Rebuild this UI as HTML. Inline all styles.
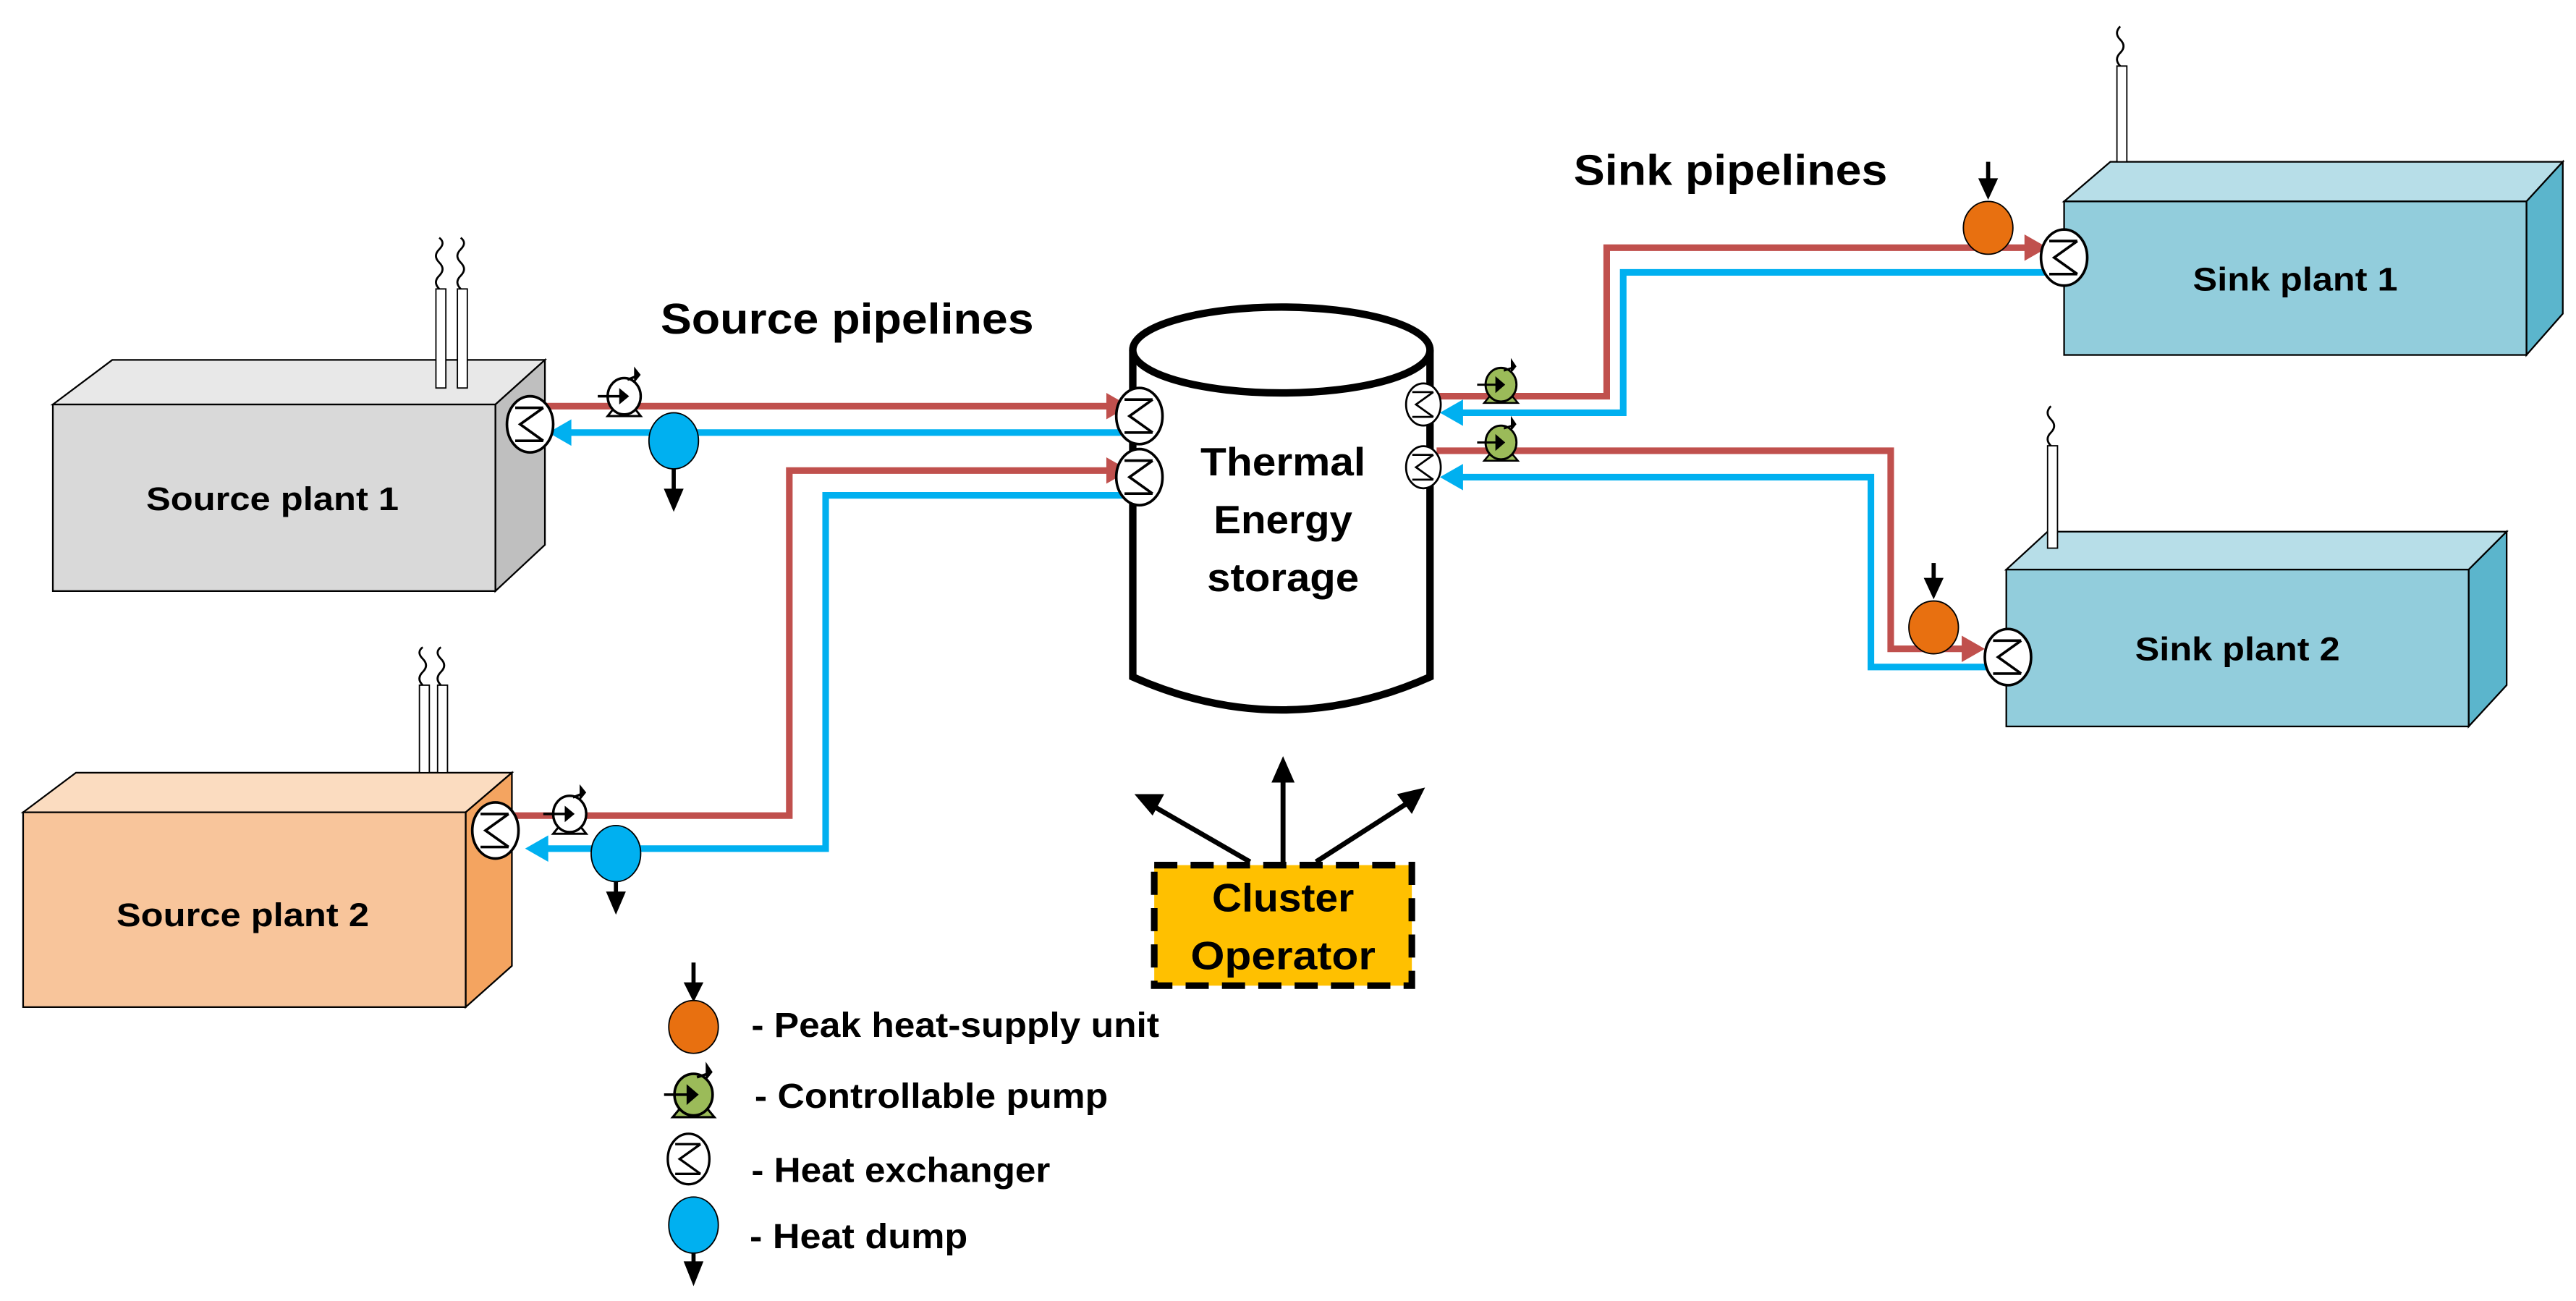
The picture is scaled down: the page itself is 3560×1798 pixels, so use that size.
<!DOCTYPE html>
<html><head><meta charset="utf-8"><style>html,body{margin:0;padding:0;background:#fff;}svg{display:block}</style></head>
<body>
<svg width="3560" height="1798" viewBox="0 0 1560 788" preserveAspectRatio="none" xmlns="http://www.w3.org/2000/svg" font-family="Liberation Sans, sans-serif" font-weight="bold">
<defs>
<g id="hx"><ellipse cx="0" cy="0" rx="14" ry="17" fill="#fff" stroke="#000" stroke-width="1.6"/><path d="M-9,-10 L8,-10 M8,-10 L-6,0 L8,10 M-9,10 L8,10" fill="none" stroke="#000" stroke-width="1.6"/></g>
<g id="pumpw"><path d="M-10,12 L10,12 L6,7 L-6,7 Z" fill="#fff" stroke="#000" stroke-width="1.3"/><ellipse cx="0" cy="0" rx="10" ry="11" fill="#fff" stroke="#000" stroke-width="1.5"/><path d="M-16,0 L-2,0" stroke="#000" stroke-width="1.5"/><path d="M-3,-5 L3,0 L-3,5 Z"/><path d="M2,-10 L7,-12" stroke="#000" stroke-width="1.5"/><path d="M6,-18 L10,-13 L6,-8 Z"/></g>
<g id="pumpg"><path d="M-12,13 L12,13 L7,7 L-7,7 Z" fill="#9bbb59" stroke="#000" stroke-width="1.3"/><ellipse cx="0" cy="0" rx="11" ry="12" fill="#9bbb59" stroke="#000" stroke-width="1.5"/><path d="M-17,0 L-2,0" stroke="#000" stroke-width="1.5"/><path d="M-4,-6 L3,0 L-4,6 Z"/><path d="M2,-10 L8,-12" stroke="#000" stroke-width="1.5"/><path d="M7,-19 L11,-13 L7,-8 Z"/></g>
</defs>
<!-- Source plant 1 -->
<polygon points="32,245 68,218 330,218 300,245" fill="#e8e8e8" stroke="#000" stroke-width="1"/>
<polygon points="300,245 330,218 330,330 300,358" fill="#bfbfbf" stroke="#000" stroke-width="1"/>
<rect x="32" y="245" width="268" height="113" fill="#d9d9d9" stroke="#000" stroke-width="1"/>
<rect x="264" y="175" width="6" height="60" fill="#fff" stroke="#000" stroke-width="0.8"/>
<rect x="277" y="175" width="6" height="60" fill="#fff" stroke="#000" stroke-width="0.8"/>
<path d="M266,175 q-4,-4 0,-8 q4,-4 0,-8 q-4,-4 0,-8 q4,-4 0,-7 M279,175 q-4,-4 0,-8 q4,-4 0,-8 q-4,-4 0,-8 q4,-4 0,-7" fill="none" stroke="#000" stroke-width="1.2"/>
<text x="165" y="309" font-size="20" text-anchor="middle" textLength="153" lengthAdjust="spacingAndGlyphs">Source plant 1</text>
<!-- Source plant 2 -->
<polygon points="14,492 46,468 310,468 282,492" fill="#fbdcc0" stroke="#000" stroke-width="1"/>
<polygon points="282,492 310,468 310,585 282,610" fill="#f4a460" stroke="#000" stroke-width="1"/>
<rect x="14" y="492" width="268" height="118" fill="#f8c59b" stroke="#000" stroke-width="1"/>
<rect x="254" y="415" width="6" height="53" fill="#fff" stroke="#000" stroke-width="0.8"/>
<rect x="265" y="415" width="6" height="53" fill="#fff" stroke="#000" stroke-width="0.8"/>
<path d="M256,415 q-4,-4 0,-8 q4,-4 0,-8 q-4,-4 0,-7 M267,415 q-4,-4 0,-8 q4,-4 0,-8 q-4,-4 0,-7" fill="none" stroke="#000" stroke-width="1.2"/>
<text x="147" y="561" font-size="20" text-anchor="middle" textLength="153" lengthAdjust="spacingAndGlyphs">Source plant 2</text>
<!-- Sink plant 1 -->
<polygon points="1250,122 1278,98 1552,98 1530,122" fill="#b7dee8" stroke="#000" stroke-width="1"/>
<polygon points="1530,122 1552,98 1552,190 1530,215" fill="#5bb5cc" stroke="#000" stroke-width="1"/>
<rect x="1250" y="122" width="280" height="93" fill="#92cddc" stroke="#000" stroke-width="1"/>
<rect x="1282" y="40" width="6" height="58" fill="#fff" stroke="#000" stroke-width="0.8"/>
<path d="M1284,40 q-4,-4 0,-8 q4,-4 0,-8 q-4,-4 0,-8" fill="none" stroke="#000" stroke-width="1.2"/>
<text x="1390" y="176" font-size="20" text-anchor="middle" textLength="124" lengthAdjust="spacingAndGlyphs">Sink plant 1</text>
<!-- Sink plant 2 -->
<polygon points="1215,345 1240,322 1518,322 1495,345" fill="#b7dee8" stroke="#000" stroke-width="1"/>
<polygon points="1495,345 1518,322 1518,415 1495,440" fill="#5bb5cc" stroke="#000" stroke-width="1"/>
<rect x="1215" y="345" width="280" height="95" fill="#92cddc" stroke="#000" stroke-width="1"/>
<rect x="1240" y="270" width="6" height="62" fill="#fff" stroke="#000" stroke-width="0.8"/>
<path d="M1242,270 q-4,-4 0,-8 q4,-4 0,-8 q-4,-4 0,-8" fill="none" stroke="#000" stroke-width="1.2"/>
<text x="1355" y="400" font-size="20" text-anchor="middle" textLength="124" lengthAdjust="spacingAndGlyphs">Sink plant 2</text>
<!-- Tank -->
<path d="M686,212 L686,410 Q776,450 866,410 L866,212" fill="#fff" stroke="#000" stroke-width="4.5"/>
<ellipse cx="776" cy="212" rx="90" ry="26" fill="#fff" stroke="#000" stroke-width="4.5"/>
<text x="777" y="288" font-size="24" text-anchor="middle" textLength="100" lengthAdjust="spacingAndGlyphs">Thermal</text>
<text x="777" y="323" font-size="24" text-anchor="middle" textLength="84" lengthAdjust="spacingAndGlyphs">Energy</text>
<text x="777" y="358" font-size="24" text-anchor="middle" textLength="92" lengthAdjust="spacingAndGlyphs">storage</text>
<!-- pipes -->
<g fill="none" stroke-width="4">
<path d="M322,246 L672,246" stroke="#c0504d"/>
<path d="M686,262 L340,262" stroke="#00b0f0"/>
<path d="M310,494 L478,494 L478,285 L672,285" stroke="#c0504d"/>
<path d="M686,300 L500,300 L500,514 L326,514" stroke="#00b0f0"/>
<path d="M870,240 L973,240 L973,150 L1228,150" stroke="#c0504d"/>
<path d="M1240,165 L983,165 L983,250 L882,250" stroke="#00b0f0"/>
<path d="M870,273 L1145,273 L1145,393 L1192,393" stroke="#c0504d"/>
<path d="M1210,404 L1133,404 L1133,289 L882,289" stroke="#00b0f0"/>
</g>
<g>
<polygon points="670,238 684,246 670,254" fill="#c0504d"/>
<polygon points="670,277 684,285 670,293" fill="#c0504d"/>
<polygon points="1226,142 1240,150 1226,158" fill="#c0504d"/>
<polygon points="1188,385 1202,393 1188,401" fill="#c0504d"/>
<polygon points="346,254 332,262 346,270" fill="#00b0f0"/>
<polygon points="332,506 318,514 332,522" fill="#00b0f0"/>
<polygon points="886,242 872,250 886,258" fill="#00b0f0"/>
<polygon points="886,281 872,289 886,297" fill="#00b0f0"/>
</g>
<!-- HX -->
<use href="#hx" x="321" y="257"/>
<use href="#hx" x="300" y="503"/>
<use href="#hx" x="690" y="252"/>
<use href="#hx" x="690" y="289"/>
<use href="#hx" transform="translate(862,245) scale(0.75)"/>
<use href="#hx" transform="translate(862,283) scale(0.75)"/>
<use href="#hx" x="1250" y="156"/>
<use href="#hx" x="1216" y="398"/>
<!-- pumps -->
<use href="#pumpw" x="378" y="240"/>
<use href="#pumpw" x="345" y="493"/>
<use href="#pumpg" transform="translate(909,233) scale(0.85)"/>
<use href="#pumpg" transform="translate(909,268) scale(0.85)"/>
<!-- heat dumps -->
<ellipse cx="408" cy="267" rx="15" ry="17" fill="#00b0f0" stroke="#000" stroke-width="0.8"/>
<path d="M408,284 L408,298" stroke="#000" stroke-width="2.5"/><polygon points="402,296 414,296 408,310"/>
<ellipse cx="373" cy="517" rx="15" ry="17" fill="#00b0f0" stroke="#000" stroke-width="0.8"/>
<path d="M373,534 L373,542" stroke="#000" stroke-width="2.5"/><polygon points="367,540 379,540 373,554"/>
<!-- peak units -->
<ellipse cx="1204" cy="138" rx="15" ry="16" fill="#e87010" stroke="#000" stroke-width="0.8"/>
<path d="M1204,98 L1204,110" stroke="#000" stroke-width="2.5"/><polygon points="1198,108 1210,108 1204,121"/>
<ellipse cx="1171" cy="380" rx="15" ry="16" fill="#e87010" stroke="#000" stroke-width="0.8"/>
<path d="M1171,341 L1171,352" stroke="#000" stroke-width="2.5"/><polygon points="1165,350 1177,350 1171,363"/>
<!-- labels -->
<text x="400" y="202" font-size="26" textLength="226" lengthAdjust="spacingAndGlyphs">Source pipelines</text>
<text x="953" y="112" font-size="26" textLength="190" lengthAdjust="spacingAndGlyphs">Sink pipelines</text>
<!-- cluster operator -->
<rect x="699" y="524" width="156" height="73" fill="#ffc000" stroke="#000" stroke-width="4" stroke-dasharray="14,8"/>
<text x="777" y="552" font-size="24" text-anchor="middle" textLength="86" lengthAdjust="spacingAndGlyphs">Cluster</text>
<text x="777" y="587" font-size="24" text-anchor="middle" textLength="112" lengthAdjust="spacingAndGlyphs">Operator</text>
<g stroke="#000" stroke-width="3">
<path d="M757,522 L698,488"/><path d="M777,522 L777,472"/><path d="M797,522 L853,486"/>
</g>
<polygon points="687,481 705,481 698,494"/>
<polygon points="770,474 784,474 777,458"/>
<polygon points="863,477 846,481 855,493"/>
<!-- legend -->
<path d="M420,583 L420,597" stroke="#000" stroke-width="2.5"/><polygon points="414,595 426,595 420,607"/>
<ellipse cx="420" cy="622" rx="15" ry="16" fill="#e87010" stroke="#000" stroke-width="0.8"/>
<text x="455" y="628" font-size="21" textLength="247" lengthAdjust="spacingAndGlyphs">- Peak heat-supply unit</text>
<use href="#pumpg" transform="translate(420,663) scale(1.05)"/>
<text x="457" y="671" font-size="21" textLength="214" lengthAdjust="spacingAndGlyphs">- Controllable pump</text>
<use href="#hx" transform="translate(417,702) scale(0.9)"/>
<text x="455" y="716" font-size="21" textLength="181" lengthAdjust="spacingAndGlyphs">- Heat exchanger</text>
<ellipse cx="420" cy="742" rx="15" ry="17" fill="#00b0f0" stroke="#000" stroke-width="0.8"/>
<path d="M420,759 L420,766" stroke="#000" stroke-width="2.5"/><polygon points="414,764 426,764 420,779"/>
<text x="454" y="756" font-size="21" textLength="132" lengthAdjust="spacingAndGlyphs">- Heat dump</text>
</svg>
</body></html>
